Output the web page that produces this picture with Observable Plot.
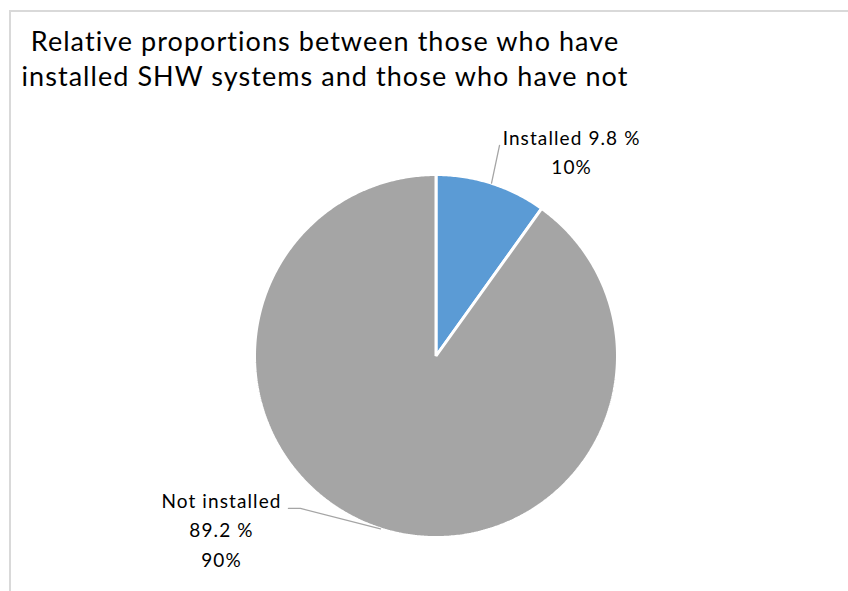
<!DOCTYPE html>
<html>
<head>
<meta charset="utf-8">
<script src="https://cdn.jsdelivr.net/npm/d3@7"></script>
<script src="https://cdn.jsdelivr.net/npm/@observablehq/plot@0.6"></script>
<style>
  html, body { margin: 0; padding: 0; background: #fff; overflow: hidden; }
  #wrap { position: relative; width: 848px; height: 591px; overflow: hidden; font-family: Lato, "Open Sans", sans-serif; }
  #frame { position: absolute; left: 9px; top: 10px; width: 900px; height: 700px; border-top: 2px solid #d9d9d9; border-left: 2px solid #d9d9d9; box-sizing: border-box; }
  #title { position: absolute; left: 0; top: 23px; width: 650px; text-align: center; font-size: 27px; letter-spacing: 1.05px; line-height: 35px; color: #000; }
  #chart { position: absolute; left: 0; top: 0; }
</style>
</head>
<body>
<div id="wrap">
  <div id="frame"></div>
  <div id="chart"></div>
  <div id="title">Relative proportions between those who have<br>installed SHW systems and those who have not</div>
</div>
<script>
// ---- data ----
const categories = ["Installed", "Not installed"];
const values = [9.8, 89.2];
const valueLabels = ["9.8 %", "89.2 %"];
const shareLabels = ["10%", "90%"];
const colors = ["#5b9bd5", "#a5a5a5"];

// ---- layout config (pixel geometry) ----
const W = 848, H = 591, cx = 435.5, cy = 355.5, R = 181.5;
// label placement in pie-radius units (x right, y up), relative to centre
const labelPlace = [
  {x: 0.747, y: 1.135, text: d => `${d.cat} ${d.vlab}\n${d.slab}`, leader: [[0.35, 1.16]]},
  {x: -1.182, y: -0.947, text: d => `${d.cat}\n${d.vlab}\n${d.slab}`, leader: [[-0.813, -0.84], [-0.747, -0.84]]}
];

const table = categories.map((c, i) => ({cat: c, value: values[i], vlab: valueLabels[i], slab: shareLabels[i]}));
const arcs = d3.pie().sort(null).value(d => d.value).startAngle(0).endAngle(2 * Math.PI)(table);

// slice outlines in radius units
const slicePts = [];
arcs.forEach(a => {
  slicePts.push({cat: a.data.cat, x: 0, y: 0});
  const n = Math.max(8, Math.ceil((a.endAngle - a.startAngle) / 0.01));
  for (let k = 0; k <= n; k++) {
    const t = a.startAngle + (a.endAngle - a.startAngle) * k / n;
    slicePts.push({cat: a.data.cat, x: Math.sin(t), y: Math.cos(t)});
  }
});

// leader lines
const leaderPts = [];
arcs.forEach((a, i) => {
  const mid = (a.startAngle + a.endAngle) / 2;
  labelPlace[i].leader.forEach(p => leaderPts.push({cat: a.data.cat, x: p[0], y: p[1]}));
  leaderPts.push({cat: a.data.cat, x: Math.sin(mid), y: Math.cos(mid)});
});

const labels = arcs.map((a, i) => ({x: labelPlace[i].x, y: labelPlace[i].y, text: labelPlace[i].text(a.data)}));

const chart = Plot.plot({
  width: W, height: H,
  margin: 0,
  x: {domain: [-cx / R, (W - cx) / R], range: [0, W], axis: null},
  y: {domain: [-(H - cy) / R, cy / R], range: [H, 0], axis: null},
  color: {domain: categories, range: colors},
  style: {fontFamily: "Lato, 'Open Sans', sans-serif", background: "transparent", letterSpacing: "1.1px"},
  marks: [
    Plot.line(slicePts, {x: "x", y: "y", z: "cat", fill: "cat", stroke: "white", strokeWidth: 3, curve: "linear-closed", strokeLinejoin: "miter"}),
    Plot.line(leaderPts, {x: "x", y: "y", z: "cat", stroke: "#a5a5a5", strokeWidth: 1.3}),
    Plot.text(labels, {x: "x", y: "y", text: "text", fontSize: 19, lineHeight: 1.55, fill: "#000", textAnchor: "middle"})
  ]
});
document.getElementById("chart").appendChild(chart);
</script>
</body>
</html>
